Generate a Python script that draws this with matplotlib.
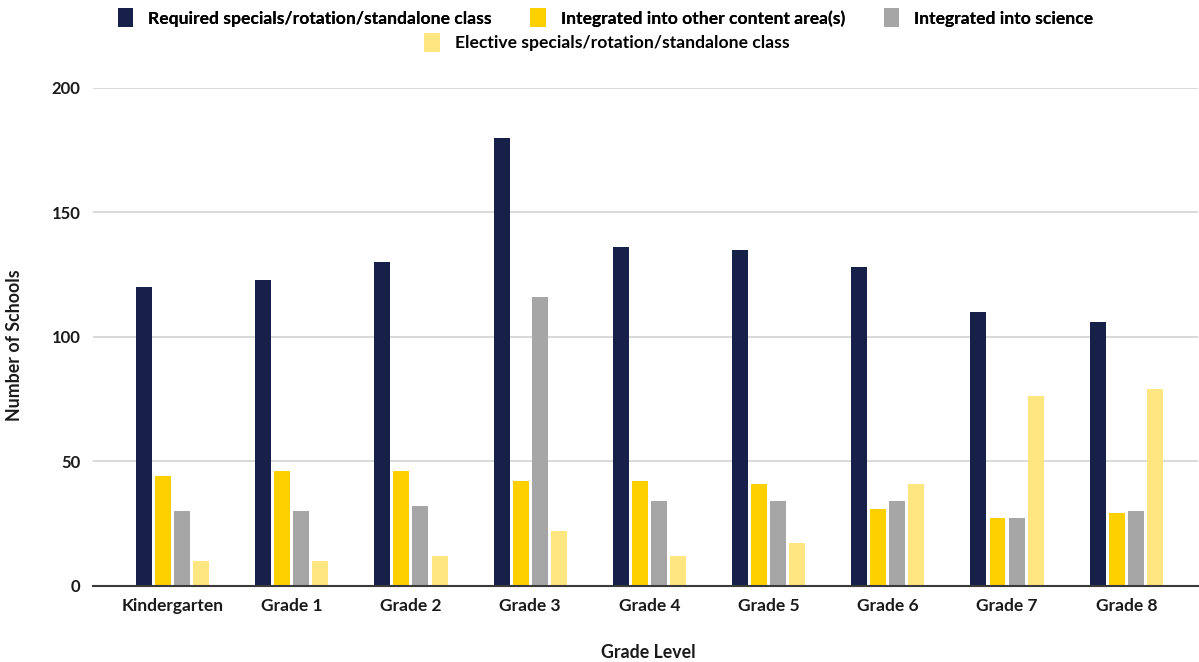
import numpy as np
import matplotlib
matplotlib.use('Agg')
import matplotlib.pyplot as plt
from matplotlib.patches import Patch

plt.rcParams['font.family'] = ['Lato', 'DejaVu Sans']

grades = ['Kindergarten', 'Grade 1', 'Grade 2', 'Grade 3', 'Grade 4',
          'Grade 5', 'Grade 6', 'Grade 7', 'Grade 8']
series_names = ['Required specials/rotation/standalone class',
                'Integrated into other content area(s)',
                'Integrated into science',
                'Elective specials/rotation/standalone class']
required = [120, 123, 130, 180, 136, 135, 128, 110, 106]
integrated_other = [44, 46, 46, 42, 42, 41, 31, 27, 29]
integrated_science = [30, 30, 32, 116, 34, 34, 34, 27, 30]
elective = [10, 10, 12, 22, 12, 17, 41, 76, 79]
colors = ['#172049', '#ffd000', '#a6a6a6', '#ffe680']

fig = plt.figure(figsize=(11.99, 6.62), dpi=100)
ax = fig.add_axes([0.0776, 0.1153, 0.9214, 0.752])

x = np.arange(len(grades))
bar_w = 0.134
step = 0.16
all_series = [required, integrated_other, integrated_science, elective]
for i, (vals, c) in enumerate(zip(all_series, colors)):
    ax.bar(x + (i - 1.5) * step, vals, width=bar_w, color=c, zorder=3)

ax.set_xlim(-0.666, 8.6)
ax.set_ylim(0, 200)
ax.set_yticks([0, 50, 100, 150, 200])
ax.yaxis.grid(True, color='#cfcfcf', linewidth=1.1, zorder=0)
ax.set_axisbelow(True)
for s in ['top', 'right', 'left']:
    ax.spines[s].set_visible(False)
ax.spines['bottom'].set_color('#3a3a3a')
ax.spines['bottom'].set_linewidth(1.5)
ax.spines['bottom'].set_zorder(4)
ax.tick_params(length=0)
ax.tick_params(axis='y', pad=9)
ax.tick_params(axis='x', pad=9)
ax.set_xticks(x)
ax.set_xticklabels(grades, fontsize=12.5, fontweight='bold', color='#1a1a1a')
for lbl in ax.get_yticklabels():
    lbl.set_fontsize(12)
    lbl.set_fontweight('bold')
    lbl.set_color('#1a1a1a')

fig.text(0.0125, 0.479, 'Number of Schools', rotation=90, ha='center', va='center',
         fontsize=12.8, fontweight='bold', color='#1a1a1a')
fig.text(0.541, 0.015, 'Grade Level', ha='center', va='center',
         fontsize=12.8, fontweight='bold', color='#1a1a1a')

handles = [Patch(facecolor=c, edgecolor='none') for c in colors]
leg_kw = dict(frameon=False, handlelength=0.9, handleheight=1.3, handletextpad=0.85,
              prop={'weight': 'bold', 'size': 12.6})
leg1 = fig.legend(handles[:3], series_names[:3], loc='center', ncol=3,
                  bbox_to_anchor=(0.505, 0.973), columnspacing=2.2, **leg_kw)
leg2 = fig.legend(handles[3:], series_names[3:], loc='center', ncol=1,
                  bbox_to_anchor=(0.506, 0.936), **leg_kw)
fig.add_artist(leg1)

fig.savefig('out.png', dpi=100)
